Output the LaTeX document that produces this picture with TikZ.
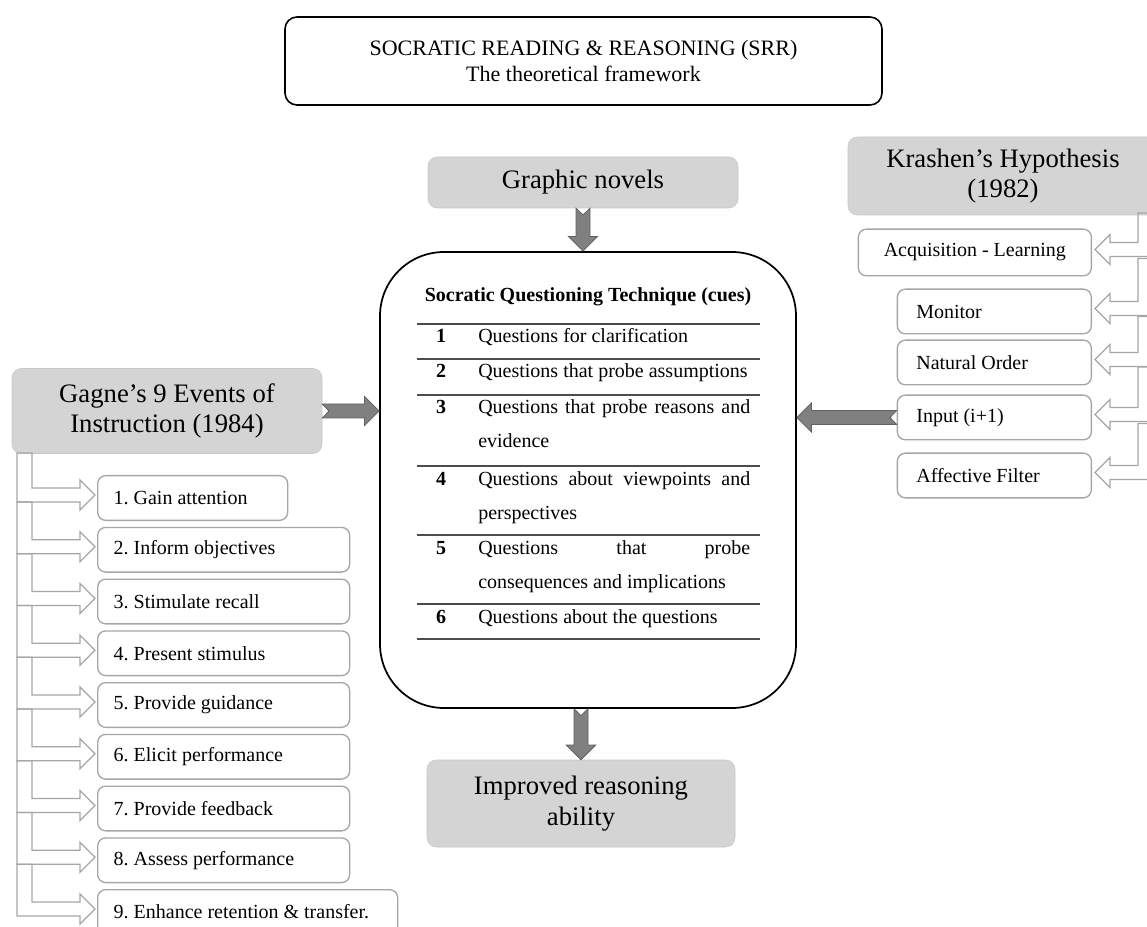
\documentclass[tikz,border=0pt]{standalone}
\usepackage{fontspec}
\setmainfont{Liberation Serif}
\usepackage{tikz}
\usetikzlibrary{positioning,calc}

% notched block arrow from #1 to #2
\newcommand{\notcharrow}[2]{%
  \coordinate (na) at (#1);
  \coordinate (nb) at (#2);
  \coordinate (nc) at ($(nb)!11pt!(na)$);
  \draw[blockarrow] ($(na)!5.25pt!90:(nb)$) -- ($(nc)!5.25pt!90:(nb)$) -- ($(nc)!11pt!90:(nb)$) -- (nb)
    -- ($(nc)!11pt!-90:(nb)$) -- ($(nc)!5.25pt!-90:(nb)$) -- ($(na)!5.25pt!-90:(nb)$) -- ($(na)!5pt!(nb)$) -- cycle;
}

\begin{document}
\begin{tikzpicture}[
    x=0.75pt, y=-0.75pt,
    titlebox/.style={rectangle, draw=black, line width=1.2pt, rounded corners=9pt, align=center, minimum width=447.75pt, minimum height=66pt, font=\fontsize{16.5}{19.5}\selectfont},
    graybox/.style={rectangle, draw=black!22, fill=black!17, rounded corners=7pt, align=center, minimum width=232.5pt, font=\fontsize{20}{23}\selectfont},
    qbox/.style={rectangle, draw=black, line width=1.3pt, rounded corners=48pt, minimum width=312pt, minimum height=342pt},
    listbox/.style={rectangle, draw=black!35, line width=1pt, rounded corners=6pt, align=flush left, inner xsep=12pt, inner ysep=0pt, minimum height=33.5pt, font=\fontsize{15}{18}\selectfont\frenchspacing},
    numcell/.style={anchor=base, inner sep=0pt, font=\fontsize{15}{18}\selectfont\bfseries},
    qcell/.style={anchor=base west, inner sep=0pt, text width=204pt, align=justify, font=\fontsize{15}{25.5}\selectfont},
    tline/.style={draw=black!70, line width=0.8pt},
    blockarrow/.style={draw=black!62, fill=black!50, line width=0.6pt},
    bentarrow/.style={draw=black!35, line width=1pt, line join=miter}
]
    \useasboundingbox (0,0) rectangle (1147,927);

    \node [titlebox] (title) at (583.5,61) {SOCRATIC READING \& REASONING (SRR)\\The theoretical framework};

    \node [graybox, minimum height=38.25pt] (gn) at (583,182.5) {Graphic novels};
    \node [qbox] (qt) at (588,480) {};
    \node [graybox, minimum width=231pt, minimum height=65.25pt] (im) at (581,803.5) {Improved reasoning\\ability};
    \node [graybox, minimum height=63.75pt] (gagne) at (167,411) {Gagne’s 9 Events of\\Instruction (1984)};
    \node [graybox, minimum height=58.5pt] (kr) at (1003,176) {Krashen’s Hypothesis\\(1982)};

    % table of cues
    \node [anchor=base, inner sep=0pt, font=\fontsize{15}{18}\selectfont\bfseries] (hd) at (588,302) {Socratic Questioning Technique (cues)};
    \foreach \r/\ly/\txt in {1/324/{Questions for clarification},
                             2/359/{Questions that probe assumptions},
                             3/395/{Questions that probe reasons and\linebreak evidence},
                             4/466/{Questions about viewpoints and\linebreak perspectives},
                             5/535/{Questions that probe\linebreak consequences and implications},
                             6/604/{Questions about the questions}} {
        \draw [tline] (417,\ly) -- (760,\ly);
        \node [numcell] (n\r) at (441,\ly+19) {\r};
        \node [qcell] (q\r) at (478,\ly+19) {\txt};
    }
    \draw [tline] (417,639) -- (760,639);

    % Gagne events
    \foreach \i/\w/\txt in {1/190/{1. Gain attention}, 2/252/{2. Inform objectives}, 3/252/{3. Stimulate recall},
                            4/252/{4. Present stimulus}, 5/252/{5. Provide guidance}, 6/252/{6. Elicit performance},
                            7/252/{7. Provide feedback}, 8/252/{8. Assess performance}, 9/300/{9. Enhance retention \& transfer.}} {
        \pgfmathsetmacro\tw{0.75*\w-24}
        \pgfmathsetmacro\yc{498+(\i-1)*51.75}
        \node [listbox, anchor=west, text width=\tw pt] (g\i) at (97,\yc) {\txt};
    }
    \foreach \i in {1,...,9} {
        \pgfmathsetmacro\vl{\i==1 ? 35 : 37.75}
        \draw [bentarrow] ($(g\i.west)+(-2,-3)$) -- ++(-15,-15) -- ++(0,8) -- ++(-48,0) -- ++(0,-\vl)
            -- ++(-15,0) -- ++(0,\vl+14) -- ++(63,0) -- ++(0,8) -- cycle;
    }

    % Krashen hypotheses
    \node [listbox, anchor=east, text width=150.75pt, align=flush center, minimum height=35pt] (k1) at (1092,252.5) {Acquisition - Learning};
    \node [listbox, inner xsep=14.25pt, text width=117pt, below left=9pt and 0pt of k1.south east] (k2) {Monitor};
    \node [listbox, inner xsep=14.25pt, text width=117pt, below left=3.75pt and 0pt of k2.south east] (k3) {Natural Order};
    \node [listbox, inner xsep=14.25pt, text width=117pt, below left=6.75pt and 0pt of k3.south east] (k4) {Input (i+1)};
    \node [listbox, inner xsep=14.25pt, text width=117pt, below left=9pt and 0pt of k4.south east] (k5) {Affective Filter};
    \foreach \i/\vl in {1/29.5, 2/43, 3/36, 4/40.5, 5/42} {
        \draw [bentarrow] ($(k\i.east)+(3,-3)$) -- ++(15,-15) -- ++(0,8) -- ++(28,0) -- ++(0,-\vl)
            -- ++(15,0) -- ++(0,\vl+14) -- ++(-43,0) -- ++(0,8) -- cycle;
    }

    \notcharrow{gn.south}{gn.south |- qt.north}
    \notcharrow{qt.south -| im.north}{im.north}
    \notcharrow{gagne.east}{qt.west |- gagne.east}
    \notcharrow{k4.west}{qt.east |- k4.west}
\end{tikzpicture}
\end{document}
